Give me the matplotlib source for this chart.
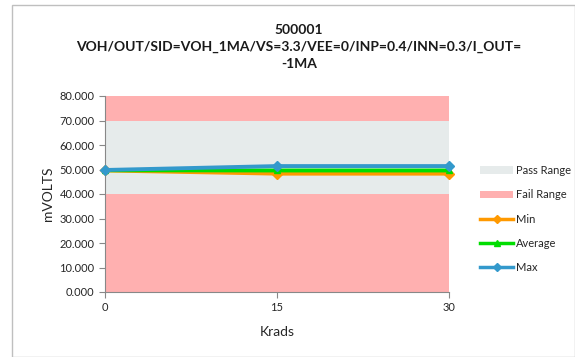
import matplotlib
matplotlib.use("Agg")
import matplotlib.pyplot as plt
from matplotlib.patches import Patch, Rectangle
from matplotlib.lines import Line2D

krads = [0, 15, 30]
min_vals = [49.6, 48.3, 48.3]
avg_vals = [49.7, 49.6, 49.6]
max_vals = [49.8, 51.4, 51.4]
pass_low, pass_high = 40, 70
y_min, y_max = 0, 80
yticks = [0, 10, 20, 30, 40, 50, 60, 70, 80]

title = "500001\nVOH/OUT/SID=VOH_1MA/VS=3.3/VEE=0/INP=0.4/INN=0.3/I_OUT=\n-1MA"

plt.rcParams['font.family'] = ['Lato', 'DejaVu Sans']

fig = plt.figure(figsize=(5.75, 3.57), dpi=100)
fig.patches.append(Rectangle((12/575, 0), 563/575, 352/357, transform=fig.transFigure,
                             fill=False, edgecolor='#BFBFBF', linewidth=1))
ax = fig.add_axes([105/575, 1 - 292/357, 344/575, 196/357])

pass_c = '#E6EBEB'
fail_c = '#FFB0B0'
ax.axhspan(y_min, pass_low, color=fail_c, lw=0, zorder=0)
ax.axhspan(pass_high, y_max, color=fail_c, lw=0, zorder=0)
ax.axhspan(pass_low, pass_high, color=pass_c, lw=0, zorder=0)

ax.plot(krads, min_vals, color='#FF9900', lw=2.8, marker='D', ms=5, zorder=3, clip_on=False)
ax.plot(krads, avg_vals, color='#00DD00', lw=2.8, marker='^', ms=5, zorder=4, clip_on=False)
ax.plot(krads, max_vals, color='#3399CC', lw=2.8, marker='D', ms=5, zorder=5, clip_on=False)

ax.set_xlim(0, 30)
ax.set_ylim(y_min, y_max)
ax.set_xticks(krads)
ax.set_yticks(yticks)
ax.set_yticklabels([f"{v:.3f}" for v in yticks])
ax.tick_params(labelsize=8, labelcolor='#262626', length=4, color='#888888')
for s in ['top', 'right']:
    ax.spines[s].set_visible(False)
for s in ['left', 'bottom']:
    ax.spines[s].set_color('#888888')
ax.set_xlabel("Krads", fontsize=10, color='#262626', labelpad=9)
ax.set_ylabel("mVOLTS", fontsize=10, color='#262626', labelpad=4)

fig.text(299/575, 1 - 47/357, title, ha='center', va='center', fontsize=10,
         fontweight='bold', linespacing=1.5, color='#1a1a1a')

handles = [Patch(facecolor=pass_c, edgecolor='none'),
           Patch(facecolor=fail_c, edgecolor='none'),
           Line2D([], [], color='#FF9900', lw=2.5, marker='D', ms=4),
           Line2D([], [], color='#00DD00', lw=2.5, marker='^', ms=4),
           Line2D([], [], color='#3399CC', lw=2.5, marker='D', ms=4)]
labels = ["Pass Range", "Fail Range", "Min", "Average", "Max"]
fig.legend(handles, labels, loc='upper left', bbox_to_anchor=(470/575, 1 - 155/357),
           frameon=False, fontsize=8, handlelength=3, labelspacing=1.2, handletextpad=0.2,
           labelcolor='#262626')

fig.savefig("out.png", dpi=100)
